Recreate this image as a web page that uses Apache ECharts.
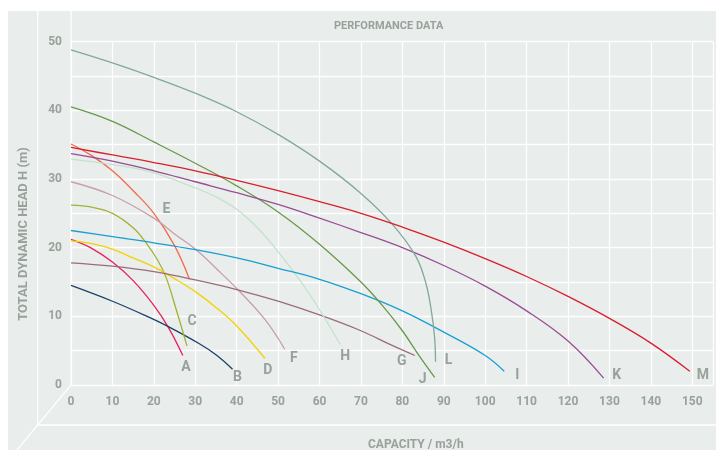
<!DOCTYPE html>
<html><head><meta charset="utf-8">
<script src="https://cdn.jsdelivr.net/npm/echarts@6/dist/echarts.min.js"></script>
<style>html,body{margin:0;padding:0;background:#fff}#c{width:716px;height:450px}</style>
</head><body><div id="c"></div>
<script>
// ---- data (capacity m3/h, head m) ----
const curveNames = ['A','B','C','D','E','F','G','H','I','J','K','L','M'];
const curveA = [[0,21.2],[5,19.9],[10,17.9],[15,15.2],[20,11.6],[23.5,8.4],[27,4.3]];
const curveB = [[0,14.5],[10,12.2],[18,10.1],[23.5,8.5],[31,6.0],[35,4.4],[39,2.3]];
const curveC = [[0,26.2],[5,25.9],[10,25.0],[15,22.9],[18,20.8],[21,18.1],[23,15.6],[25.4,11.0],[28,5.7]];
const curveD = [[0,21.0],[5,20.6],[10,19.8],[15,18.5],[20,17.2],[25,15.5],[30,13.6],[35,11.3],[40,8.6],[46.8,3.9]];
const curveE = [[0,35.1],[5,33.4],[10,31.2],[15,28.3],[20,25.0],[25,20.3],[28.6,15.4]];
const curveF = [[0,29.6],[10,27.6],[20,24.3],[25,22.0],[30,19.8],[35,17.0],[40.6,13.7],[47,9.4],[51.6,5.2]];
const curveG = [[0,17.8],[10,17.3],[20,16.5],[30,15.3],[40,13.9],[50,12.2],[60,10.2],[70,7.9],[77.4,5.8],[83,4.3]];
const curveH = [[0,32.9],[10,32.1],[20,30.9],[30,28.7],[35,27.4],[40,25.6],[45,22.9],[50,19.4],[57.4,13.4],[65,5.9]];
const curveI = [[0,22.5],[10,21.6],[20,20.7],[30,19.7],[40,18.5],[50,17.0],[60,15.4],[70,13.3],[80,10.8],[90,7.7],[100,4.3],[104.6,2.0]];
const curveJ = [[0,40.5],[10,38.4],[20,35.4],[30,32.3],[40,29.0],[50,25.2],[60,20.5],[70,15.0],[75,11.7],[80,7.9],[84,4.3],[87.8,1.1]];
const curveK = [[0,33.7],[10,32.6],[20,31.2],[30,29.6],[40,28.0],[50,26.3],[60,24.3],[70,22.2],[80,20.0],[90,17.4],[100,14.4],[110,10.8],[120,6.4],[128.6,1.0]];
const curveL = [[0,48.8],[10,46.9],[20,44.8],[30,42.5],[40,39.8],[50,36.5],[60,32.6],[70,27.9],[77.6,23.4],[83.2,18.8],[85.6,15.0],[87,10.8],[87.8,6.8],[88,3.4]];
const curveM = [[0,34.6],[10,33.5],[20,32.4],[30,31.2],[40,29.8],[50,28.3],[60,26.7],[70,25.0],[80,23.0],[90,20.8],[100,18.4],[110,15.8],[120,12.9],[130,9.7],[140,6.1],[149.4,2.0]];
const curves = [curveA,curveB,curveC,curveD,curveE,curveF,curveG,curveH,curveI,curveJ,curveK,curveL,curveM];

// ---- styles ----
const colors = ['#E8215B','#1B416C','#A2B232','#F3D200','#F4694A','#C89EAE','#9B6C7B','#C3E2CC','#199FD2','#69984A','#9A4C94','#80A99A','#D91F2E'];
const labelOffsets = [[3,12],[5,8],[5,-24],[3,12],[-23,-70],[9,9],[-13,6],[5,12],[13,4],[-12,2],[13,-3],[13,-1],[13,4]];
const TXT = '#98A29B';
const FONT = 'Roboto';
const BG = '#E9EDEB';

const chart = echarts.init(document.getElementById('c'));
const series = curves.map((d, i) => ({
  type: 'line',
  name: curveNames[i],
  data: d,
  smooth: 0.4,
  showSymbol: false,
  symbol: 'none',
  silent: true,
  lineStyle: { color: colors[i], width: 1.3 },
  markPoint: {
    symbol: 'circle',
    symbolSize: 1,
    itemStyle: { color: 'rgba(0,0,0,0)' },
    silent: true,
    label: {
      show: true, position: 'inside', formatter: curveNames[i],
      offset: labelOffsets[i], color: TXT, fontFamily: FONT, fontWeight: 'bold', fontSize: 14
    },
    data: [{ coord: d[d.length - 1] }]
  }
}));

const W = '#FFFFFF';
const line = (x1,y1,x2,y2) => ({ type:'line', z: 1, silent:true, shape:{x1,y1,x2,y2}, style:{stroke:W, lineWidth:1.3} });

chart.setOption({
  animation: false,
  backgroundColor: '#FFFFFF',
  title: [
    { text: 'PERFORMANCE DATA', left: 329, top: 16, textStyle: { color: TXT, fontFamily: FONT, fontWeight: 'bold', fontSize: 11 } },
    { text: 'CAPACITY / m3/h', left: 363, top: 434, textStyle: { color: TXT, fontFamily: FONT, fontWeight: 'bold', fontSize: 12 } }
  ],
  graphic: [
    { type:'rect', z: -10, silent:true, shape:{x:8,y:11,width:708,height:439}, style:{fill:BG} },
    line(71,11,71,385),
    line(37.7,11,37.7,425),
    line(71,385,37.7,425),
    line(37.7,425,716,425),
    line(37.7,425,16.5,450.5),
    { type:'text', z: 1, silent:true, x: 24, y: 234, rotation: Math.PI/2,
      style:{ text:'TOTAL DYNAMIC HEAD H (m)', fill: TXT, font: 'bold 13px Roboto', align:'center', verticalAlign:'middle' } }
  ],
  grid: { left: 71, top: 41.67, right: 0, bottom: 65, containLabel: false },
  xAxis: {
    type: 'value', min: 0, max: 155, interval: 10,
    axisLine: { show: false }, axisTick: { show: false },
    splitLine: { show: true, lineStyle: { color: W, width: 1.3 } },
    axisLabel: { margin: 11, color: TXT, fontFamily: FONT, fontWeight: 'bold', fontSize: 12,
      formatter: v => (v <= 150 && v % 10 === 0) ? String(v) : '' }
  },
  yAxis: {
    type: 'value', min: 0, max: 50, interval: 5,
    axisLine: { show: false }, axisTick: { show: false },
    splitLine: { show: true, lineStyle: { color: W, width: 1.3 } },
    axisLabel: { margin: 9, color: TXT, fontFamily: FONT, fontWeight: 'bold', fontSize: 12,
      formatter: v => v % 10 === 0 ? String(v) : '' }
  },
  series
});
</script></body></html>
